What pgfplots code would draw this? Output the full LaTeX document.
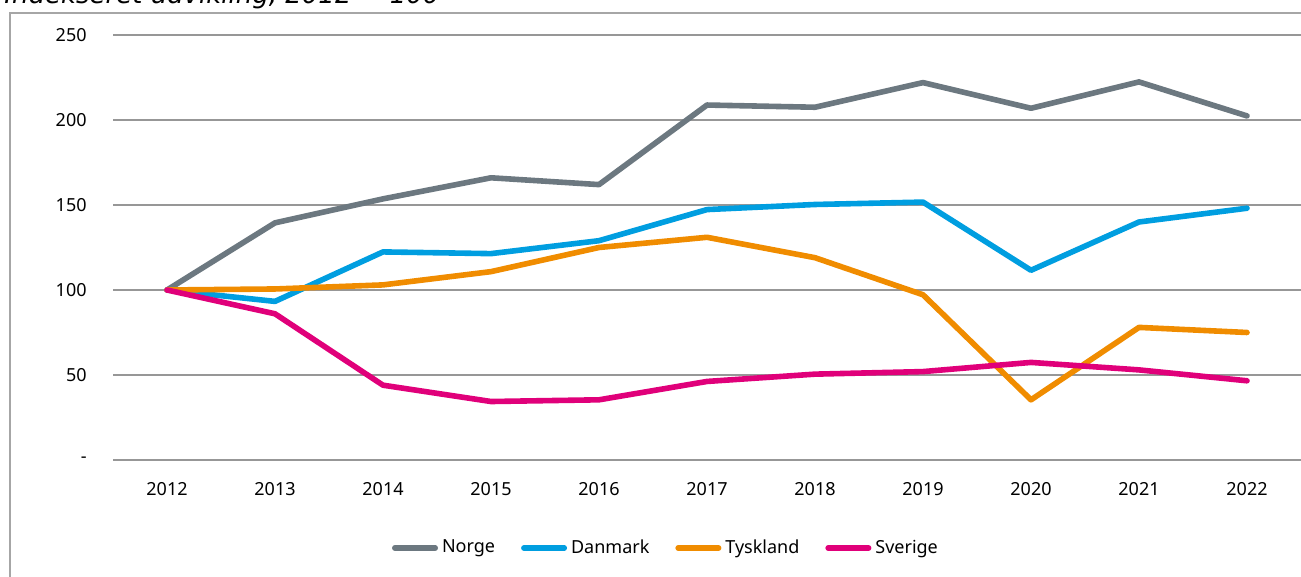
\documentclass[border=0pt]{standalone}
\usepackage{fontspec}
\setmainfont{Noto Sans}
\newfontfamily\titlefont{DejaVu Sans}
\usepackage{pgfplots}
\pgfplotsset{compat=1.18}
\definecolor{cNorge}{HTML}{6C7880}
\definecolor{cDanmark}{HTML}{009EE0}
\definecolor{cTyskland}{HTML}{F08C00}
\definecolor{cSverige}{HTML}{E0007A}
\definecolor{gridGray}{HTML}{979797}
\definecolor{frameGray}{HTML}{A6A6A6}
\begin{document}
\begin{tikzpicture}
\path[use as bounding box, clip] (0,0) rectangle (650.5pt,288.5pt);
\draw[color=frameGray, line width=0.65pt] (700pt,282pt) -- (5pt,282pt) -- (5pt,-20pt);
\node[anchor=base west, inner sep=0pt, font=\titlefont\itshape\fontsize{13pt}{15pt}\selectfont] at (2pt,286.5pt) {Indekseret udvikling, 2012 = 100};
\begin{axis}[
  at={(56.5pt,58.5pt)}, anchor=south west,
  scale only axis, width=594pt, height=212.5pt,
  xmin=-0.5, xmax=10.5, ymin=0, ymax=250,
  axis line style={draw=none},
  tick style={draw=none},
  major tick length=0pt,
  xtick={0,1,2,3,4,5,6,7,8,9,10},
  xticklabels={2012,2013,2014,2015,2016,2017,2018,2019,2020,2021,2022},
  ytick={0,50,100,150,200,250},
  yticklabels={-,50,100,150,200,250},
  ymajorgrids=true,
  grid style={color=gridGray, line width=0.75pt},
  ticklabel style={font=\fontsize{9pt}{10pt}\selectfont, text=black},
  xticklabel style={anchor=north, inner sep=0pt, yshift=-11pt},
  yticklabel style={anchor=east, inner sep=0pt, xshift=-13pt},
  every axis plot/.append style={line width=2.8pt, line cap=round, line join=round, mark=none},
  legend columns=4,
  legend image code/.code={\draw[#1, line width=2.8pt, line cap=round] (0pt,0pt) -- (20.2pt,0pt);},
  legend style={draw=none, fill=none, at={(0.4646,-0.2071)}, anchor=center,
    font=\fontsize{9pt}{10pt}\selectfont, inner sep=0pt, outer sep=0pt,
    nodes={inner sep=0pt},
    /tikz/every odd column/.append style={column sep=2pt},
    /tikz/every even column/.append style={column sep=13pt}},
]
\addplot[color=cNorge] coordinates {(0,100) (1,139.5) (2,153.6) (3,166) (4,162) (5,208.8) (6,207.5) (7,222) (8,206.9) (9,222.4) (10,202.4)};
\addlegendentry{Norge}
\addplot[color=cDanmark] coordinates {(0,100) (1,93.3) (2,122.4) (3,121.4) (4,129) (5,147.3) (6,150.3) (7,151.7) (8,111.6) (9,140) (10,148.1)};
\addlegendentry{Danmark}
\addplot[color=cTyskland] coordinates {(0,100) (1,100.6) (2,103) (3,110.8) (4,125) (5,131) (6,119) (7,97.2) (8,35.4) (9,78) (10,75)};
\addlegendentry{Tyskland}
\addplot[color=cSverige] coordinates {(0,100) (1,86) (2,44) (3,34.4) (4,35.4) (5,46.2) (6,50.5) (7,52) (8,57.4) (9,53) (10,46.6)};
\addlegendentry{Sverige}
\end{axis}
\end{tikzpicture}
\end{document}
